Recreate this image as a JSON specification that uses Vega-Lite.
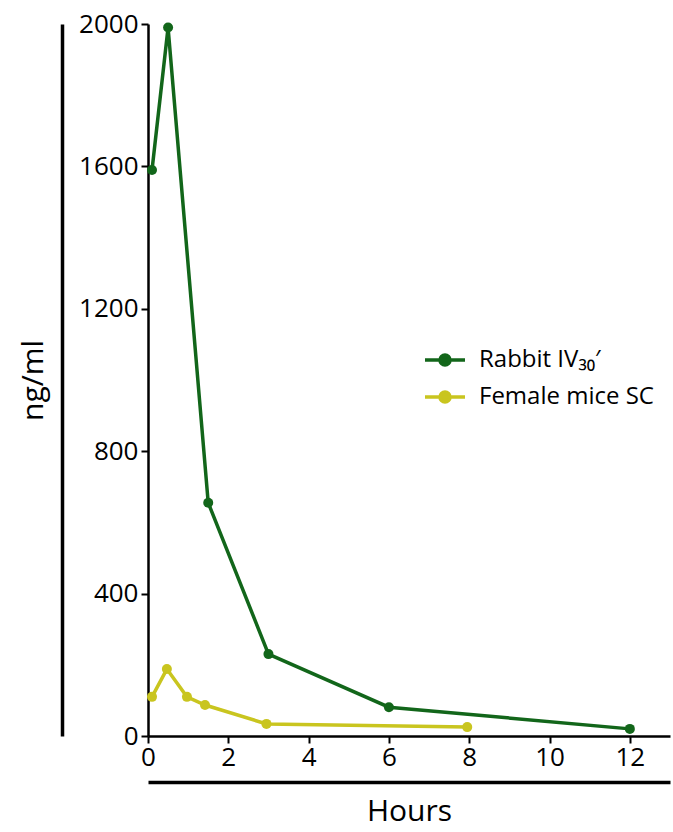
{
  "$schema": "https://vega.github.io/schema/vega-lite/v6.json",
  "width": 522,
  "height": 712,
  "autosize": {"type": "none"},
  "padding": {"left": 148, "top": 24, "right": 3, "bottom": 96},
  "background": "white",
  "config": {
    "view": {"stroke": null},
    "font": "Open Sans",
    "axis": {"grid": false, "domainColor": "black", "tickColor": "black", "labelColor": "black", "titleColor": "black", "labelFont": "Open Sans", "titleFont": "Open Sans", "titleFontWeight": "normal"}
  },
  "data": {
    "values": [
      {"series": "Rabbit IV₃₀′", "hours": 0.1, "conc": 1590},
      {"series": "Rabbit IV₃₀′", "hours": 0.5, "conc": 1990},
      {"series": "Rabbit IV₃₀′", "hours": 1.5, "conc": 655},
      {"series": "Rabbit IV₃₀′", "hours": 3, "conc": 230},
      {"series": "Rabbit IV₃₀′", "hours": 6, "conc": 81},
      {"series": "Rabbit IV₃₀′", "hours": 12, "conc": 20},
      {"series": "Female mice SC", "hours": 0.1, "conc": 110},
      {"series": "Female mice SC", "hours": 0.47, "conc": 188},
      {"series": "Female mice SC", "hours": 0.97, "conc": 110},
      {"series": "Female mice SC", "hours": 1.42, "conc": 87},
      {"series": "Female mice SC", "hours": 2.95, "conc": 34},
      {"series": "Female mice SC", "hours": 7.95, "conc": 25}
    ]
  },
  "layer": [
    {
      "mark": {"type": "line", "strokeWidth": 3.5},
      "encoding": {
        "x": {"field": "hours", "type": "quantitative", "scale": {"domain": [0, 13], "nice": false},
          "axis": {"orient": "bottom", "values": [0, 2, 4, 6, 8, 10, 12], "format": "d", "title": null, "labelFontSize": 26, "labelPadding": 1, "tickSize": 7, "tickWidth": 2, "domainWidth": 2.5, "labelFlush": false}},
        "y": {"field": "conc", "type": "quantitative", "scale": {"domain": [0, 2000], "nice": false},
          "axis": {"orient": "left", "values": [0, 400, 800, 1200, 1600, 2000], "format": "d", "title": null, "labelFontSize": 26, "labelPadding": 3, "tickSize": 7, "tickWidth": 2, "domainWidth": 2.5, "labelBaseline": "middle"}},
        "color": {"field": "series", "type": "nominal",
          "scale": {"domain": ["Rabbit IV₃₀′", "Female mice SC"], "range": ["#12661a", "#c9c51f"]},
          "legend": {"title": null, "orient": "none", "legendX": 275, "legendY": 314, "labelFontSize": 24, "labelFont": "Open Sans", "labelColor": "black", "labelLimit": 0, "rowPadding": 3, "labelOffset": 12,
            "symbolType": "M-1,0H1M-0.25,0A0.25,0.25 0 1,1 0.25,0A0.25,0.25 0 1,1 -0.25,0",
            "symbolSize": 1600, "symbolStrokeWidth": 3.5,
            "encode": {"symbols": {"update": {"fill": {"scale": "color", "field": "value"}, "stroke": {"scale": "color", "field": "value"}}}}}},
        "order": {"field": "hours", "type": "quantitative"}
      }
    },
    {
      "mark": {"type": "point", "filled": true, "size": 100, "opacity": 1},
      "encoding": {
        "x": {"field": "hours", "type": "quantitative",
          "axis": {"orient": "bottom", "offset": 46, "labels": false, "ticks": false, "domainWidth": 3.5, "title": "Hours", "titleFontSize": 30, "titlePadding": 14}},
        "y": {"field": "conc", "type": "quantitative",
          "axis": {"orient": "left", "offset": 86, "labels": false, "ticks": false, "domainWidth": 3.5, "title": "ng/ml", "titleFontSize": 30, "titlePadding": 14}},
        "color": {"field": "series", "type": "nominal", "legend": null}
      }
    }
  ],
  "resolve": {"axis": {"x": "independent", "y": "independent"}}
}
